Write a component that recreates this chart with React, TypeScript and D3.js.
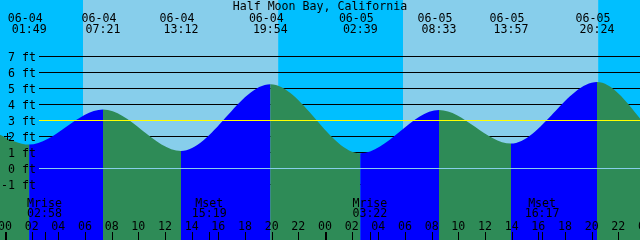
import React from "react";
import * as d3 from "d3";

// ---- data ----
const title = "Half Moon Bay, California";
const tideStamps = ["06-04 01:49", "06-04 07:21", "06-04 13:12", "06-04 19:54", "06-05 02:39", "06-05 08:33", "06-05 13:57", "06-05 20:24"];
const tideHeights = [1.5, 3.69, 1.1, 5.27, 0.95, 3.66, 1.56, 5.41];
const edgeStamps = ["06-03 23:37", "06-05 23:38"];
const edgeHeights = [2.12, 3.12];
const sunriseStamps = ["06-04 05:51", "06-05 05:51"];
const sunsetStamps = ["06-04 20:29", "06-05 20:29"];
const moonLabels = ["Mrise", "Mset", "Mrise", "Mset"];
const moonStamps = ["06-04 02:58", "06-04 15:19", "06-05 03:22", "06-05 16:17"];
const levelTicks = [7, 6, 5, 4, 3, 2, 1, 0, -1];
const meanLevel = 3;
const datumLevel = 0;
const hourTicks = d3.range(0, 49, 2);
const midnightHours = [0, 24];
const markStamp = "06-04 00:07";
const markLevel = 2;

const W = 640;
const H = 240;
const FONT = "'DejaVu Sans Mono', 'Liberation Mono', monospace";
const FS = 11.6;

const C = {
  nightSky: "#00BFFF",
  daySky: "#87CEEB",
  flood: "#0000FF",
  ebb: "#2E8B57",
  mean: "#FFFF00",
  datum: "#87CEEB",
  grid: "#000000",
  text: "#000000",
};

function toHours(stamp: string): number {
  const [md, hm] = stamp.split(" ");
  const day = +md.split("-")[1];
  const [h, m] = hm.split(":").map(Number);
  return (day - 4) * 24 + h + m / 60;
}

const x = d3.scaleLinear().domain([-0.375, 47.625]).range([0, W]);
const y = d3.scaleLinear().domain([0, 7]).range([168.5, 56.5]);

export default function App() {
  const tideT = tideStamps.map(toHours);
  const pts = [
    { t: toHours(edgeStamps[0]), h: edgeHeights[0] },
    ...tideT.map((t, i) => ({ t, h: tideHeights[i] })),
    { t: toHours(edgeStamps[1]), h: edgeHeights[1] },
  ];
  const area = d3
    .area<{ t: number; h: number }>()
    .x((d) => x(d.t))
    .y0(H)
    .y1((d) => y(d.h))
    .curve(d3.curveMonotoneX);

  const [d0, d1] = x.domain();
  // flood / ebb segments
  const bounds = [d0, ...tideT, d1];
  const segs = [] as { a: number; b: number; rising: boolean }[];
  for (let i = 0; i < bounds.length - 1; i++) {
    // segment i ends at tide i (if exists); rising if it ends at a high
    let rising: boolean;
    if (i < tideT.length) {
      const next = tideHeights[i];
      const prev = i > 0 ? tideHeights[i - 1] : edgeHeights[0];
      rising = next > prev;
    } else {
      rising = edgeHeights[1] > tideHeights[tideHeights.length - 1];
    }
    segs.push({ a: bounds[i], b: bounds[i + 1], rising });
  }

  // sky segments
  const rise = sunriseStamps.map(toHours);
  const set = sunsetStamps.map(toHours);
  const sky = [
    { a: d0, b: rise[0], day: false },
    { a: rise[0], b: set[0], day: true },
    { a: set[0], b: rise[1], day: false },
    { a: rise[1], b: set[1], day: true },
    { a: set[1], b: d1, day: false },
  ];

  const textProps = { fontFamily: FONT, fontSize: FS, fill: C.text } as const;
  const mx = x(toHours(markStamp)) + 0.5;
  const my = y(markLevel);

  return (
    <svg
      width={W}
      height={H}
      viewBox={`0 0 ${W} ${H}`}
      style={{ position: "fixed", left: 0, top: 0, display: "block" }}
    >
      <defs>
        <clipPath id="below">
          <path d={area(pts) || ""} />
        </clipPath>
      </defs>
      {sky.map((s, i) => (
        <rect key={"s" + i} x={x(s.a)} y={0} width={x(s.b) - x(s.a)} height={H} fill={s.day ? C.daySky : C.nightSky} />
      ))}
      {levelTicks
        .filter((v) => v !== meanLevel && v !== datumLevel)
        .map((v) => (
          <line key={"g" + v} x1={39} x2={W} y1={y(v)} y2={y(v)} stroke={C.grid} strokeWidth={1} shapeRendering="crispEdges" />
        ))}
      <g clipPath="url(#below)">
        {segs.map((s, i) => (
          <rect key={"f" + i} x={x(s.a)} y={0} width={x(s.b) - x(s.a)} height={H} fill={s.rising ? C.flood : C.ebb} />
        ))}
      </g>
      <line x1={39} x2={W} y1={y(datumLevel)} y2={y(datumLevel)} stroke={C.datum} strokeWidth={1} shapeRendering="crispEdges" />
      <line x1={39} x2={W} y1={y(meanLevel)} y2={y(meanLevel)} stroke={C.mean} strokeWidth={1} shapeRendering="crispEdges" />

      <text x={W / 2} y={10} textAnchor="middle" {...textProps}>{title}</text>
      {tideStamps.map((s, i) => {
        const [md, hm] = s.split(" ");
        const xx = x(tideT[i]);
        return (
          <g key={"t" + i}>
            <text x={xx - 4} y={22} textAnchor="middle" {...textProps}>{md}</text>
            <text x={xx} y={33.3} textAnchor="middle" {...textProps}>{hm}</text>
          </g>
        );
      })}
      {levelTicks.map((v) => (
        <text key={"l" + v} x={36} y={y(v) + 4.2} textAnchor="end" {...textProps}>{`${v} ft`}</text>
      ))}
      {moonStamps.map((s, i) => {
        const xx = x(toHours(s));
        return (
          <g key={"m" + i}>
            <text x={xx} y={206.5} textAnchor="middle" {...textProps}>{moonLabels[i]}</text>
            <text x={xx} y={217} textAnchor="middle" {...textProps}>{s.split(" ")[1]}</text>
            <line x1={Math.round(xx) + 0.5} x2={Math.round(xx) + 0.5} y1={232} y2={H} stroke={C.grid} strokeWidth={1} />
          </g>
        );
      })}
      {hourTicks.map((h) => {
        const xx = x(h);
        const isMid = midnightHours.includes(h);
        return (
          <g key={"h" + h}>
            <text x={xx} y={230} textAnchor="middle" {...textProps}>{String(h % 24).padStart(2, "0")}</text>
            <line
              x1={isMid ? Math.round(xx) + 1 : Math.round(xx) + 0.5}
              x2={isMid ? Math.round(xx) + 1 : Math.round(xx) + 0.5}
              y1={232}
              y2={H}
              stroke={C.grid}
              strokeWidth={isMid ? 2 : 1}
            />
          </g>
        );
      })}
      <line x1={mx - 3.5} x2={mx + 3.5} y1={my} y2={my} stroke={C.grid} strokeWidth={1} shapeRendering="crispEdges" />
      <line x1={mx} x2={mx} y1={my - 3.5} y2={my + 3.5} stroke={C.grid} strokeWidth={1} shapeRendering="crispEdges" />
    </svg>
  );
}
